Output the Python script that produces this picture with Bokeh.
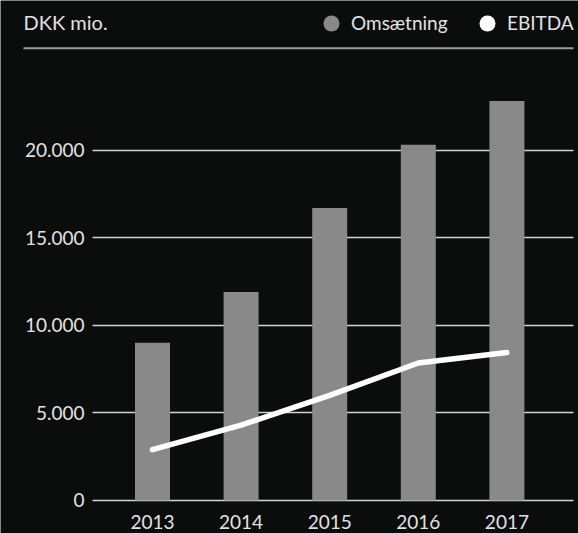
from bokeh.plotting import figure
from bokeh.models import (Range1d, FixedTicker, Label, Legend, LegendItem, BoxAnnotation)
from bokeh.embed import file_html
from bokeh.resources import INLINE

# ---- data ----
years = [2013, 2014, 2015, 2016, 2017]
omsaetning = [9000, 11900, 16700, 20300, 22800]
ebitda = [2900, 4300, 6000, 7850, 8450]
y_ticks = [0, 5000, 10000, 15000, 20000]
y_tick_labels = ["0", "5.000", "10.000", "15.000", "20.000"]
unit_label = "DKK mio."
series_names = ["Omsætning", "EBITDA"]

# ---- style ----
BG = "#0b0c0c"
BAR = "#898989"
TEXT = "#e2e2e2"
GRID = "#d4d4d4"
FONT = "Lato"

X0, X1 = 2011.2844, 2017.8081      # frame spans the whole canvas
Y0, Y1 = -1883.6, 28538.8

p = figure(width=578, height=533, output_backend="svg", toolbar_location=None,
           x_range=Range1d(X0, X1), y_range=Range1d(Y0, Y1),
           min_border_left=0, min_border_right=0, min_border_top=0, min_border_bottom=0)

p.background_fill_color = BG
p.border_fill_color = BG
p.outline_line_color = None

p.vbar(x=years, top=omsaetning, bottom=0, width=0.395, fill_color=BAR, line_color=None)
p.line(x=years, y=ebitda, line_color="white", line_width=5.5, line_cap="round", line_join="round")

# zero-size markers that only serve as circle glyphs in the legend
r1 = p.scatter(x=years, y=omsaetning, marker="circle", size=0, fill_color=BAR, line_color=None)
r2 = p.scatter(x=years, y=ebitda, marker="circle", size=0, fill_color="white", line_color=None)
for r, name, lx in ((r1, series_names[0], 311), (r2, series_names[1], 467)):
    lg = Legend(items=[LegendItem(label=name, renderers=[r])],
                location=(lx, 490.3), orientation="horizontal",
                glyph_width=40, glyph_height=40, label_standoff=0,
                padding=0, margin=0, border_line_color=None, background_fill_alpha=0,
                label_text_color=TEXT, label_text_font=FONT, label_text_font_size="19px")
    p.add_layout(lg)

# header text and rule
p.add_layout(Label(x=23, y=512, x_units="screen", y_units="screen", text=unit_label,
                   text_color=TEXT, text_font=FONT, text_font_size="20px",
                   text_baseline="alphabetic", text_align="left"))
p.add_layout(BoxAnnotation(left=23, right=573, bottom=484.3, top=486.3,
                           left_units="screen", right_units="screen",
                           bottom_units="screen", top_units="screen",
                           fill_color="#9c9c9c", fill_alpha=1, line_color=None))

# axes (fixed inside the frame)
p.yaxis.ticker = FixedTicker(ticks=y_ticks)
p.yaxis.major_label_overrides = dict(zip(y_ticks, y_tick_labels))
p.yaxis.fixed_location = 2012.3228
p.xaxis.ticker = FixedTicker(ticks=years)
p.xaxis.fixed_location = 0
for ax in (p.xaxis, p.yaxis):
    ax.axis_line_color = None
    ax.major_tick_line_color = None
    ax.minor_tick_line_color = None
    ax.major_tick_out = 0
    ax.major_tick_in = 0
    ax.major_label_text_color = TEXT
    ax.major_label_text_font = FONT
    ax.major_label_text_font_size = "19px"
p.yaxis.major_label_standoff = 8
p.xaxis.major_label_standoff = 15

p.xgrid.visible = False
p.ygrid.ticker = FixedTicker(ticks=y_ticks)
p.ygrid.cross_bounds = (2012.3228, 2017.7517)
p.ygrid.grid_line_color = GRID
p.ygrid.grid_line_width = 1.3

open("out.html", "w").write(file_html(p, INLINE))
